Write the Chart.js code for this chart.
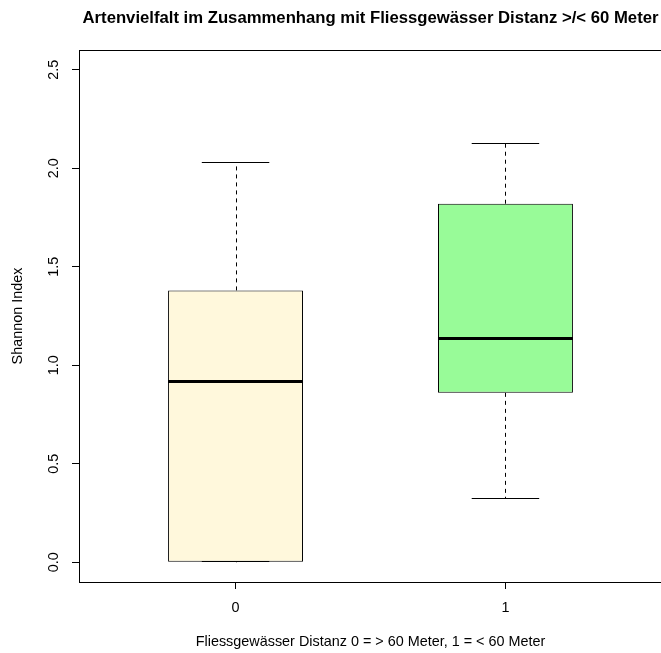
<!DOCTYPE html>
<html>
<head>
<meta charset="utf-8">
<script src="https://cdn.jsdelivr.net/npm/chart.js@4"></script>
<style>
  html, body { margin: 0; padding: 0; background: #fff; overflow: hidden; }
  #wrap { width: 700px; height: 653px; }
</style>
</head>
<body>
<div id="wrap"><canvas id="boxChart" width="700" height="653"></canvas></div>
<script>
const categories = ["0", "1"];
const whiskerLow = [0.00, 0.32];
const quartile1 = [0.00, 0.86];
const medians = [0.92, 1.14];
const quartile3 = [1.38, 1.82];
const whiskerHigh = [2.03, 2.13];
const yTicks = [0, 0.5, 1.0, 1.5, 2.0, 2.5];
const boxColors = ["#FFF8DC", "#98FB98"];

const BOX_HALF = 0.25;   // halbe Boxbreite in x-Einheiten
const CAP_HALF = 0.125;  // halbe Breite der Whisker-Enden

Chart.defaults.font.family = '"Liberation Sans", Arial, Helvetica, sans-serif';
Chart.defaults.font.size = 14.4;
Chart.defaults.color = "#000";

// Whisker, Mediane und Rahmen ueber die Skalen zeichnen
const boxplotParts = {
  id: "boxplotParts",
  beforeDatasetsDraw(chart) {
    const { ctx, scales: { x, y } } = chart;
    const seg = (x1, y1, x2, y2) => {
      ctx.beginPath();
      ctx.moveTo(x1, y1);
      ctx.lineTo(x2, y2);
      ctx.stroke();
    };
    ctx.save();
    ctx.strokeStyle = "#000";
    ctx.lineWidth = 1;
    categories.forEach((c, i) => {
      const cx = Math.round(x.getPixelForValue(i)) + 0.5;
      const yHi = Math.round(y.getPixelForValue(whiskerHigh[i])) + 0.5;
      const yLo = Math.round(y.getPixelForValue(whiskerLow[i])) - 0.5;
      ctx.setLineDash([4, 4]);
      seg(cx, y.getPixelForValue(quartile3[i]), cx, yHi);
      seg(cx, y.getPixelForValue(quartile1[i]), cx, yLo);
      ctx.setLineDash([]);
      const l = x.getPixelForValue(i - CAP_HALF);
      const r = x.getPixelForValue(i + CAP_HALF);
      seg(l, yHi, r, yHi);
      seg(l, yLo, r, yLo);
    });
    ctx.restore();
  },
  afterDatasetsDraw(chart) {
    const { ctx, scales: { x, y } } = chart;
    ctx.save();
    ctx.strokeStyle = "#000";
    ctx.lineWidth = 3;
    categories.forEach((c, i) => {
      const ym = Math.round(y.getPixelForValue(medians[i])) + 0.5;
      ctx.beginPath();
      ctx.moveTo(x.getPixelForValue(i - BOX_HALF), ym);
      ctx.lineTo(x.getPixelForValue(i + BOX_HALF), ym);
      ctx.stroke();
    });
    ctx.restore();
  },
  afterDraw(chart) {
    const { ctx, chartArea: a } = chart;
    ctx.save();
    ctx.strokeStyle = "#000";
    ctx.lineWidth = 1;
    ctx.strokeRect(Math.round(a.left) + 0.5, Math.round(a.top) + 0.5,
      Math.round(a.right - a.left), Math.round(a.bottom - a.top));
    ctx.restore();
  }
};

const ctx = document.getElementById("boxChart");

new Chart(ctx, {
  type: "bar",
  data: {
    datasets: [{
      label: "Shannon Index",
      data: categories.map((c, i) => ({ x: i, y: [quartile1[i], quartile3[i]] })),
      backgroundColor: boxColors,
      borderColor: "#000",
      borderWidth: 1,
      borderSkipped: false,
      categoryPercentage: 1,
      barPercentage: BOX_HALF * 2
    }]
  },
  options: {
    responsive: false,
    animation: false,
    layout: { padding: { left: 0, right: 38, top: 0, bottom: 0 } },
    plugins: {
      legend: { display: false },
      tooltip: { enabled: false },
      title: {
        display: true,
        fullSize: false,
        text: "Artenvielfalt im Zusammenhang mit Fliessgewässer Distanz >/< 60 Meter",
        color: "#000",
        font: { size: 16.7, weight: "bold" },
        padding: { top: 8, bottom: 22 }
      }
    },
    scales: {
      x: {
        type: "linear",
        min: -0.58,
        max: 1.58,
        offset: false,
        afterBuildTicks: (scale) => { scale.ticks = categories.map((c, i) => ({ value: i })); },
        afterFit: (scale) => { scale.height = 71; },
        ticks: {
          padding: 10,
          maxRotation: 0,
          callback: (v) => categories[v]
        },
        grid: { offset: false, drawOnChartArea: false, color: "#000", tickLength: 7 },
        border: { display: true, color: "#000" },
        title: {
          display: true,
          text: "Fliessgewässer Distanz 0 = > 60 Meter, 1 = < 60 Meter",
          padding: { top: 0, bottom: 2 }
        }
      },
      y: {
        min: -0.1,
        max: 2.6,
        afterBuildTicks: (scale) => { scale.ticks = yTicks.map(v => ({ value: v })); },
        afterFit: (scale) => { scale.width = 79; },
        ticks: {
          minRotation: 90,
          maxRotation: 90,
          crossAlign: "center",
          padding: 8,
          callback: (v) => Number(v).toFixed(1)
        },
        grid: { drawOnChartArea: false, color: "#000", tickLength: 7 },
        border: { display: true, color: "#000" },
        title: {
          display: true,
          text: "Shannon Index",
          padding: { top: 9, bottom: 0 }
        }
      }
    }
  },
  plugins: [boxplotParts]
});
</script>
</body>
</html>
